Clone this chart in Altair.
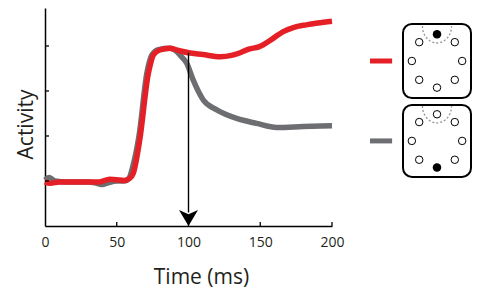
import altair as alt
import pandas as pd
import numpy as np

RED = "#e41f26"
GRAY = "#6d6e71"
INK = "#231f20"
FONT = "Open Sans"

# ---- data ----
red_t = [0, 3.5, 10, 20, 30, 38, 45, 50, 55, 59, 61.5, 66, 72, 73.5, 75.5, 80, 87, 93, 100,
         110, 122, 130, 136, 142, 149, 159, 166, 173, 182, 190, 200]
red_v = [0.98, 0.95, 0.98, 0.98, 0.98, 0.98, 1.04, 1.03, 1.01, 1.06, 1.17, 1.91, 3.39, 3.6, 3.8,
         3.91, 3.95, 3.9, 3.85, 3.81, 3.76, 3.79, 3.85, 3.93, 3.98, 4.17, 4.32, 4.41, 4.47, 4.51, 4.55]

gray_t = [0, 3, 7, 15, 30, 36, 40, 44, 50, 55, 58.5, 61, 65.5, 71, 74.5, 79, 87, 91, 94, 98.7,
          103.3, 110.3, 119.7, 133.6, 147.5, 161.5, 180, 200]
gray_v = [1.02, 1.08, 1.0, 0.98, 0.98, 0.95, 0.92, 0.96, 1.0, 1.0, 1.06, 1.3, 2.0, 3.4, 3.8, 3.92,
          3.95, 3.9, 3.8, 3.62, 3.24, 2.8, 2.58, 2.39, 2.28, 2.19, 2.21, 2.23]

x_ticks = [0, 50, 100, 150, 200]
x_inner_ticks = [50, 100, 150, 200]
y_inner_ticks = [1, 2, 3, 4]

arrow_t = [100]
arrow_top = [3.85]
arrow_bottom = [0.3]
arrow_head = [0.178]

series_names = ["pref", "anti"]
series_colors = [RED, GRAY]

# legend icons (icon units)
icon_series = ["pref", "anti"]
icon_cy = [0.0, -2.22]
icon_half_h = [1.03, 1.0]
icon_filled_deg = [90, -90]
target_deg = [90, 45, 0, -45, -90, -135, 180, 135]
target_r = 0.74
arc_rx, arc_ry, arc_up = 0.43, 0.47, 0.97
arc_deg = list(range(180, 361, 10))
legend_x0, legend_x1 = -1.97, -1.32

# ---- tables ----
lines = pd.concat([
    pd.DataFrame({"t": gray_t, "v": gray_v, "s": "anti"}),
    pd.DataFrame({"t": red_t, "v": red_v, "s": "pref"}),
])
arrow = pd.DataFrame({"t": arrow_t, "top": arrow_top, "bot": arrow_bottom, "head": arrow_head})

rect_df = pd.DataFrame({
    "x0": [-1.0] * 2, "x1": [1.0] * 2,
    "y0": [c - h for c, h in zip(icon_cy, icon_half_h)],
    "y1": [c + h for c, h in zip(icon_cy, icon_half_h)],
})
circ_rows = []
for cy, fd in zip(icon_cy, icon_filled_deg):
    for d in target_deg:
        a = np.deg2rad(d)
        circ_rows.append({"ix": target_r * np.cos(a), "iy": cy + target_r * np.sin(a),
                          "filled": d == fd})
circ_df = pd.DataFrame(circ_rows)
arc_rows = []
for k, (cy, h) in enumerate(zip(icon_cy, icon_half_h)):
    for d in arc_deg:
        a = np.deg2rad(d)
        arc_rows.append({"icon": k, "d": d, "ix": arc_rx * np.cos(a),
                         "iy": cy + arc_up + arc_ry * np.sin(a)})
arc_df = pd.DataFrame(arc_rows)
leg_df = pd.DataFrame({"x0": [legend_x0] * 2, "x1": [legend_x1] * 2, "iy": icon_cy, "s": icon_series})

W, H = 287, 218
xs = alt.Scale(domain=[0, 200], nice=False, zero=False)
ys = alt.Scale(domain=[0, 4.844], nice=False, zero=False)
cs = alt.Scale(domain=series_names, range=series_colors)

x_axis = alt.Axis(values=x_ticks, ticks=False, grid=False, domainColor="black", domainWidth=1.5,
                  labelFont=FONT, labelFontSize=14, labelColor=INK, labelPadding=9, labelFlush=False,
                  title="Time (ms)", titleFont=FONT, titleFontSize=21, titleFontWeight="normal",
                  titleColor=INK, titlePadding=17, titleX=156)
y_axis = alt.Axis(labels=False, ticks=False, grid=False, domainColor="black", domainWidth=1.5,
                  title="Activity", titleFont=FONT, titleFontSize=21, titleFontWeight="normal",
                  titleColor=INK, titlePadding=9, titleY=116)

base = alt.Chart(lines)
gray_line = base.transform_filter(alt.datum.s == "anti").mark_line(
    strokeWidth=5.5, interpolate="monotone", strokeCap="butt").encode(
    x=alt.X("t:Q", scale=xs, axis=x_axis),
    y=alt.Y("v:Q", scale=ys, axis=y_axis),
    color=alt.Color("s:N", scale=cs, legend=None))
red_line = base.transform_filter(alt.datum.s == "pref").mark_line(
    strokeWidth=5.5, interpolate="monotone", strokeCap="butt").encode(
    x=alt.X("t:Q", scale=xs), y=alt.Y("v:Q", scale=ys),
    color=alt.Color("s:N", scale=cs, legend=None))

arrow_rule = alt.Chart(arrow).mark_rule(color="black", strokeWidth=1.4).encode(
    x=alt.X("t:Q", scale=xs), y=alt.Y("top:Q", scale=ys), y2="bot:Q")
arrow_tip = alt.Chart(arrow).mark_point(
    shape="M-1,-0.84L0,-0.4L1,-0.84L0,0.84Z", size=361, filled=True, color="black", opacity=1).encode(
    x=alt.X("t:Q", scale=xs), y=alt.Y("head:Q", scale=ys))

xt = alt.Chart(pd.DataFrame({"t": x_inner_ticks})).mark_rule(color="black", strokeWidth=1.3).encode(
    x=alt.X("t:Q", scale=xs), y=alt.value(H), y2=alt.value(H - 4))
yt = alt.Chart(pd.DataFrame({"v": y_inner_ticks})).mark_rule(color="black", strokeWidth=1.3).encode(
    y=alt.Y("v:Q", scale=ys), x=alt.value(0), x2=alt.value(4))

main = alt.layer(gray_line, red_line, arrow_rule, arrow_tip, xt, yt)

# icon panel: centre at page x 437, 34 px per unit; rows 36 px per unit
ixs = alt.Scale(domain=[-2, 1], range=[324, 426], nice=False, zero=False)
iys = alt.Scale(domain=[-4, 1], range=[197, 17], nice=False, zero=False)

boxes = alt.Chart(rect_df).mark_rect(cornerRadius=9, fill="white", stroke="black", strokeWidth=2).encode(
    x=alt.X("x0:Q", scale=ixs, axis=None), x2="x1:Q",
    y=alt.Y("y0:Q", scale=iys, axis=None), y2="y1:Q")
arcs = alt.Chart(arc_df).mark_line(color="#939598", strokeWidth=1.3, strokeDash=[2, 2]).encode(
    x=alt.X("ix:Q", scale=ixs, axis=None), y=alt.Y("iy:Q", scale=iys, axis=None),
    detail="icon:N", order="d:Q")
open_c = alt.Chart(circ_df).transform_filter("!datum.filled").mark_point(
    shape="circle", filled=False, color="black", strokeWidth=1, size=56, opacity=1).encode(
    x=alt.X("ix:Q", scale=ixs, axis=None), y=alt.Y("iy:Q", scale=iys, axis=None))
full_c = alt.Chart(circ_df).transform_filter("datum.filled").mark_point(
    shape="circle", filled=True, color="black", size=72, opacity=1).encode(
    x=alt.X("ix:Q", scale=ixs, axis=None), y=alt.Y("iy:Q", scale=iys, axis=None))
leg = alt.Chart(leg_df).mark_rule(strokeWidth=5).encode(
    x=alt.X("x0:Q", scale=ixs, axis=None), x2="x1:Q",
    y=alt.Y("iy:Q", scale=iys, axis=None),
    color=alt.Color("s:N", scale=cs, legend=None))

icons = alt.layer(boxes, arcs, open_c, full_c, leg)

chart = alt.layer(main, icons).resolve_scale(x="independent", y="independent").properties(
    width=W, height=H,
    padding={"left": 37, "top": 0, "right": 140, "bottom": 62},
    autosize=alt.AutoSizeParams(type="none"),
).configure_view(stroke=None)

chart.save("out.html", embed_options={"renderer": "svg", "actions": False})
